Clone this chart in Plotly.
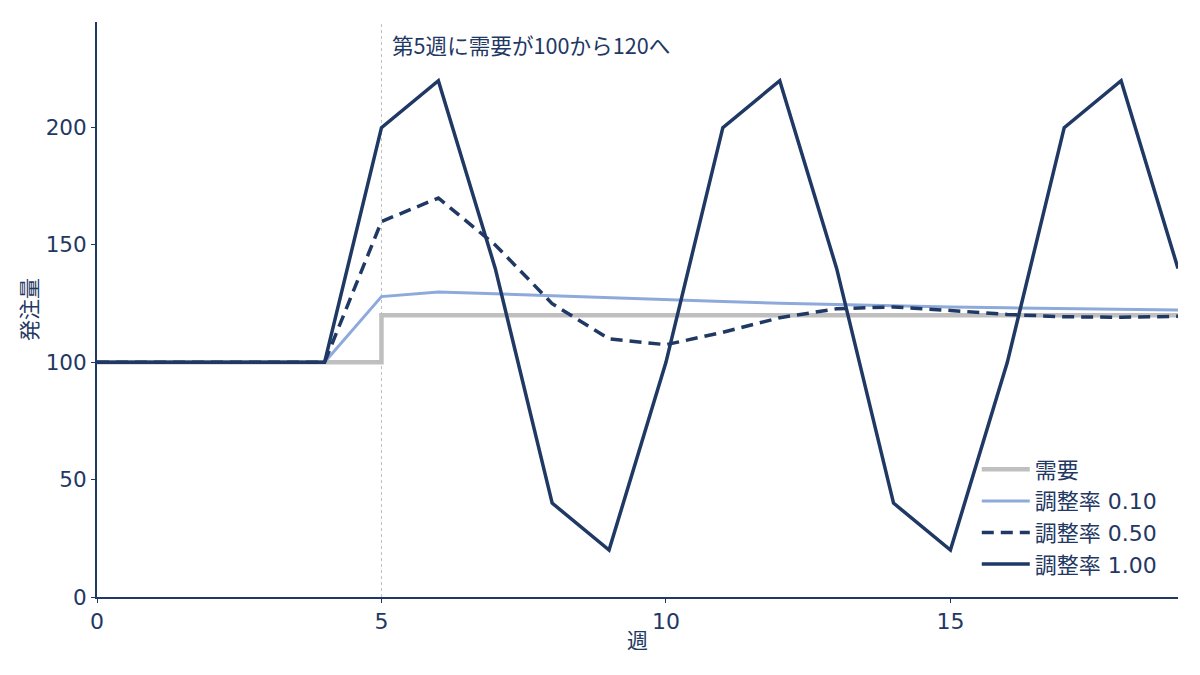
import plotly.graph_objects as go

weeks = list(range(20))
demand = [100, 100, 100, 100, 100, 120, 120, 120, 120, 120, 120, 120, 120, 120, 120, 120, 120, 120, 120, 120]
adj_010 = [100, 100, 100, 100, 100, 128, 130, 129.2, 128.3, 127.4, 126.6, 125.9, 125.2, 124.6, 124.1, 123.6, 123.2, 122.9, 122.6, 122.3]
adj_050 = [100, 100, 100, 100, 100, 160, 170, 150, 125, 110, 107.5, 112.8, 119, 122.8, 123.6, 122.1, 120.4, 119.4, 119.2, 119.6]
adj_100 = [100, 100, 100, 100, 100, 200, 220, 140, 40, 20, 100, 200, 220, 140, 40, 20, 100, 200, 220, 140]

names = ["需要", "調整率 0.10", "調整率 0.50", "調整率 1.00"]
annot_text = "第5週に需要が100から120へ"
x_title = "週"
y_title = "発注量"

navy = "#1f3864"
font_family = "DejaVu Sans, Noto Sans CJK JP"

fig = go.Figure()
fig.add_trace(go.Scatter(x=weeks, y=demand, name=names[0], mode="lines",
                         line=dict(color="#bfbfbf", width=4.5, shape="hv")))
fig.add_trace(go.Scatter(x=weeks, y=adj_010, name=names[1], mode="lines",
                         line=dict(color="#8eaadb", width=3)))
fig.add_trace(go.Scatter(x=weeks, y=adj_050, name=names[2], mode="lines",
                         line=dict(color=navy, width=3.5, dash="12px,7px")))
fig.add_trace(go.Scatter(x=weeks, y=adj_100, name=names[3], mode="lines",
                         line=dict(color=navy, width=3.5)))

fig.add_shape(type="line", x0=5, x1=5, xref="x", y0=0, y1=1, yref="paper",
              line=dict(color="#bfbfbf", width=1, dash="dot"), layer="below")
fig.add_annotation(x=5, xref="x", y=1, yref="paper", text=annot_text,
                   showarrow=False, xanchor="left", yanchor="top", xshift=9, yshift=-5,
                   font=dict(family="Noto Sans CJK JP", size=21.6, color=navy))

fig.update_layout(
    width=1200, height=675,
    paper_bgcolor="white", plot_bgcolor="white",
    margin=dict(l=89, r=30, t=14, b=86),
    font=dict(family=font_family, size=22, color=navy),
    legend=dict(x=0.985, y=0.02, xanchor="right", yanchor="bottom",
                bgcolor="rgba(0,0,0,0)", font=dict(size=22, color=navy),
                itemwidth=48, tracegroupgap=0),
    showlegend=True,
)
fig.update_xaxes(range=[0, 19], showgrid=False, zeroline=False, showline=True,
                 linecolor=navy, linewidth=2, ticks="outside", ticklen=4, tickwidth=1,
                 tickcolor=navy, tickvals=[0, 5, 10, 15],
                 title=dict(text=x_title, font=dict(size=21, color=navy), standoff=0),
                 tickfont=dict(size=22, color=navy))
fig.update_yaxes(range=[0, 245], showgrid=False, zeroline=False, showline=True,
                 linecolor=navy, linewidth=2, ticks="outside", ticklen=4, tickwidth=1,
                 tickcolor=navy, tickvals=[0, 50, 100, 150, 200],
                 title=dict(text=y_title, font=dict(size=21, color=navy), standoff=2),
                 tickfont=dict(size=21.5, color=navy))

fig.write_html("out.html")
